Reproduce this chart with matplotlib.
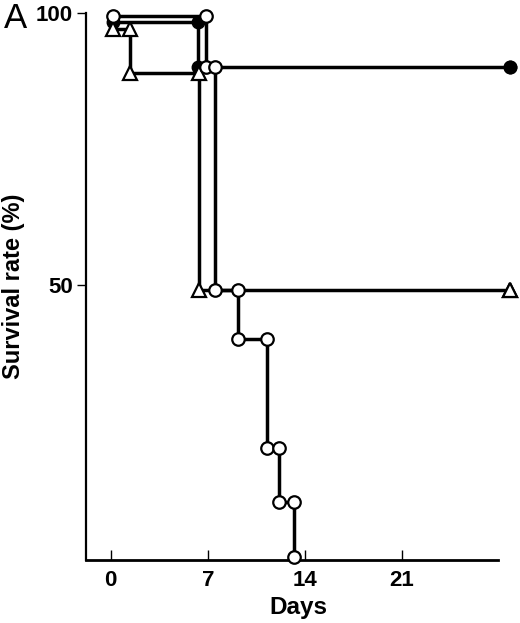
import matplotlib
matplotlib.use("Agg")
import matplotlib.pyplot as plt

plt.rcParams['font.family'] = ['Liberation Sans', 'DejaVu Sans']

# Data (days at which survival changes, survival % at each step)
days_filled = [0.15, 6.3, 28.8]
surv_filled = [98.3, 90, 90]

days_triangle = [0.15, 1.4, 6.35, 28.8]
surv_triangle = [97.0, 89.0, 49.0, 49.0]

days_open = [0.2, 6.9, 7.55, 9.2, 11.25, 12.15, 13.2]
surv_open = [99.5, 90, 49, 40, 20, 10, 0]

xticks = [0, 7, 14, 21]
yticks = [50, 100]


def step_path(days, surv):
    xs, ys = [days[0]], [surv[0]]
    for i in range(1, len(days)):
        xs += [days[i], days[i]]
        ys += [surv[i - 1], surv[i]]
    return xs, ys


fig = plt.figure(figsize=(5.2, 6.23), dpi=100)
ax = fig.add_axes([86 / 520, 63 / 623, (498 - 86) / 520, (560 - 13) / 623])

lw = 2.5
x, y = step_path(days_filled, surv_filled)
ax.plot(x, y, color='black', lw=lw, marker='o', ms=9, mfc='black', mec='black',
        clip_on=False, zorder=3)
x, y = step_path(days_triangle, surv_triangle)
ax.plot(x, y, color='black', lw=lw, marker='^', ms=10.5, mfc='white', mec='black', mew=1.6,
        clip_on=False, zorder=4)
x, y = step_path(days_open, surv_open)
ax.plot(x, y, color='black', lw=lw, marker='o', ms=9, mfc='white', mec='black', mew=1.6,
        clip_on=False, zorder=5)

ax.set_xlim(-1.78, 27.92)
ax.set_ylim(-0.6, 100)
ax.spines['top'].set_visible(False)
ax.spines['right'].set_visible(False)
ax.spines['left'].set_linewidth(1.6)
ax.spines['bottom'].set_linewidth(2.0)

ax.set_xticks(xticks)
ax.set_xticklabels([str(t) for t in xticks], fontsize=16, fontweight='bold')
ax.set_yticks(yticks)
ax.set_yticklabels([str(t) for t in yticks], fontsize=16, fontweight='bold')
ax.tick_params(axis='x', direction='in', length=7, width=1, pad=7)
ax.tick_params(axis='y', direction='out', length=6.5, width=1, pad=3)

ax.set_xlabel('Days', fontsize=17.5, fontweight='bold')
ax.xaxis.set_label_coords(0.515, -0.066)
ax.set_ylabel('Survival rate (%)', fontsize=17, fontweight='bold')
ax.yaxis.set_label_coords(-0.148, 0.5)

fig.text(16 / 520, 1 - 18 / 623, 'A', fontsize=25, ha='center', va='center')

fig.savefig('out.png', dpi=100)
